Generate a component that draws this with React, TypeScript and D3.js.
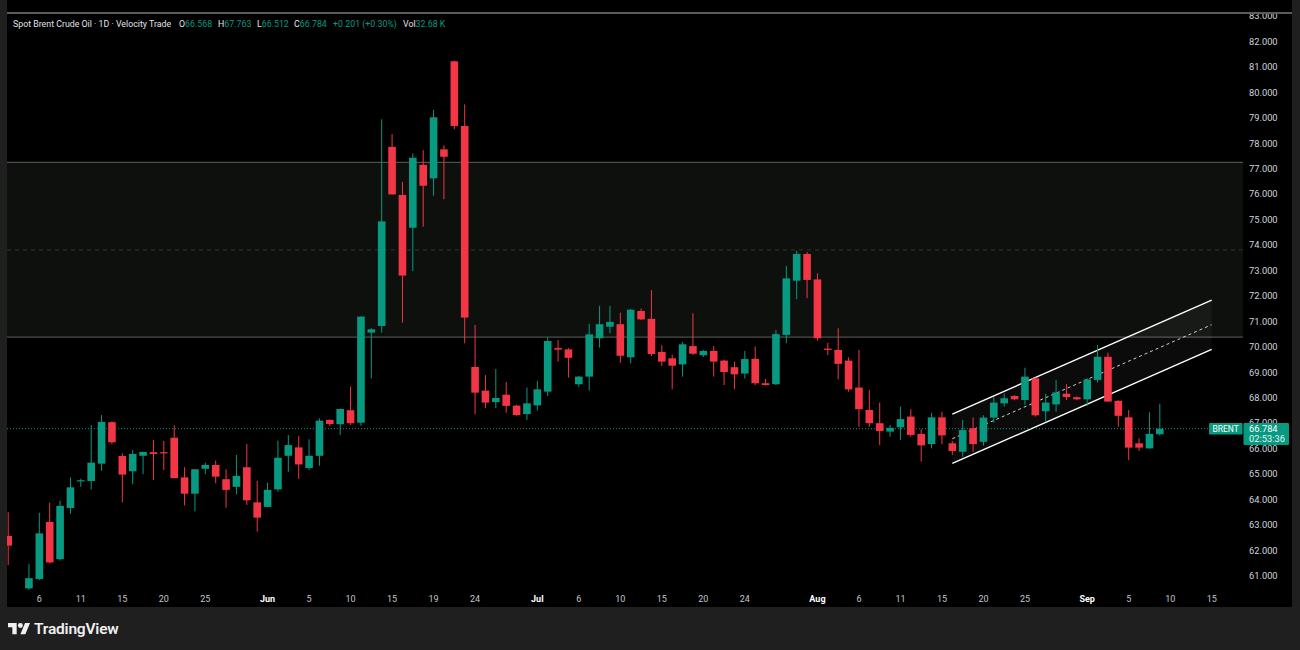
import React from "react";
import * as d3 from "d3";

// Bar slots (daily bars incl. Sunday sessions), May 2 – Sep 15
const dates = [
  "May 2","May 4","May 5","May 6","May 7","May 8","May 9","May 11","May 12","May 13","May 14","May 15","May 16",
  "May 18","May 19","May 20","May 21","May 22","May 23","May 25","May 26","May 27","May 28","May 29","May 30",
  "Jun 1","Jun 2","Jun 3","Jun 4","Jun 5","Jun 6","Jun 8","Jun 9","Jun 10","Jun 11","Jun 12","Jun 13",
  "Jun 15","Jun 16","Jun 17","Jun 18","Jun 19","Jun 20","Jun 22","Jun 23","Jun 24","Jun 25","Jun 26","Jun 27",
  "Jun 29","Jun 30","Jul 1","Jul 2","Jul 3","Jul 4","Jul 6","Jul 7","Jul 8","Jul 9","Jul 10","Jul 11",
  "Jul 13","Jul 14","Jul 15","Jul 16","Jul 17","Jul 18","Jul 20","Jul 21","Jul 22","Jul 23","Jul 24","Jul 25",
  "Jul 27","Jul 28","Jul 29","Jul 30","Jul 31","Aug 1","Aug 3","Aug 4","Aug 5","Aug 6","Aug 7","Aug 8",
  "Aug 10","Aug 11","Aug 12","Aug 13","Aug 14","Aug 15","Aug 17","Aug 18","Aug 19","Aug 20","Aug 21","Aug 22",
  "Aug 24","Aug 25","Aug 26","Aug 27","Aug 28","Aug 29","Aug 31","Sep 1","Sep 2","Sep 3","Sep 4","Sep 5",
  "Sep 7","Sep 8","Sep 9","Sep 10","Sep 11","Sep 12","Sep 14","Sep 15",
];

const open = [
  62.57,null,60.51,60.88,63.12,61.66,63.67,64.72,64.73,65.41,67.04,65.71,65.11,
  65.72,65.86,65.86,66.43,64.87,64.23,65.21,65.36,64.8,64.5,65.27,63.89,
  63.71,64.4,65.72,66.05,65.24,65.72,67.13,66.96,67.51,67.02,70.56,70.82,
  77.86,75.97,74.68,77.15,76.62,77.76,81.22,78.68,69.21,68.28,67.83,68.12,
  67.69,67.36,67.7,68.24,69.95,69.9,68.53,68.83,70.34,70.79,70.89,69.59,
  71.41,71.1,69.8,69.55,69.31,70.03,69.67,69.84,69.46,69.2,68.95,69.53,
  68.57,68.53,70.47,72.6,73.65,72.65,69.93,69.88,69.46,68.4,67.52,67.0,
  66.67,66.84,67.26,66.58,66.18,67.23,66.21,65.88,66.8,66.27,67.22,67.78,
  68.07,67.91,68.76,67.47,67.74,68.16,68.02,67.94,68.7,69.61,67.88,67.23,
  66.21,66.01,66.568,
];
const high = [
  63.5,null,61.46,63.48,63.88,63.96,64.87,64.82,66.93,67.32,67.08,65.82,65.95,
  65.88,66.34,66.3,66.92,65.27,65.19,65.45,65.53,65.19,65.75,66.18,64.73,
  64.66,66.31,66.54,66.5,66.37,67.19,67.15,67.58,68.44,71.19,70.73,78.94,
  78.36,76.48,77.6,77.73,79.31,77.92,81.25,79.53,70.86,68.89,69.13,68.62,
  67.72,68.4,68.66,70.38,70.27,69.95,68.86,70.9,71.61,71.61,71.34,71.49,
  71.51,72.23,70.06,69.69,70.19,71.32,69.88,70.03,69.5,69.42,69.84,70.01,
  68.74,70.66,73.18,73.78,73.73,72.89,70.16,70.73,69.59,69.88,68.3,67.81,
  66.93,67.65,67.55,66.76,67.41,67.45,66.3,67.13,67.23,67.31,68.02,68.17,
  68.1,69.18,68.8,68.15,68.7,68.53,68.05,68.76,70.07,69.77,67.9,67.52,
  66.41,67.43,67.763,
];
const low = [
  61.43,null,60.45,60.83,61.49,61.61,63.44,64.5,64.4,65.13,66.17,63.89,64.6,
  65.0,64.77,65.16,64.84,63.77,63.54,65.0,64.64,63.68,64.21,63.79,62.74,
  63.71,64.31,65.09,64.81,65.16,65.33,66.89,66.54,66.93,66.9,68.76,70.56,
  75.99,70.95,72.98,74.72,75.94,75.8,78.55,70.14,67.35,67.59,67.59,67.41,
  67.3,67.13,67.49,68.07,69.42,68.79,68.43,68.28,69.97,70.53,69.38,69.35,
  71.05,69.64,69.25,68.33,68.83,69.68,69.6,68.83,68.5,68.34,68.76,68.5,
  68.48,68.5,70.14,71.87,71.91,70.24,69.68,68.72,68.24,66.86,66.86,66.14,
  66.47,66.34,66.47,65.49,66.01,66.17,65.75,65.68,65.88,66.12,67.02,67.65,
  67.9,67.72,67.26,67.06,67.45,67.91,67.9,67.68,68.6,67.85,66.86,65.55,
  65.91,66.0,66.512,
];
const close = [
  62.19,null,60.91,62.67,61.53,63.75,64.48,64.76,65.45,67.05,66.25,64.98,65.79,
  65.87,65.79,65.83,64.84,64.23,65.19,65.36,64.9,64.38,64.93,63.97,63.29,
  64.38,65.64,66.14,65.38,65.72,67.1,66.97,67.56,67.0,71.19,70.69,74.93,
  75.99,72.8,77.43,76.33,79.02,77.47,78.68,71.15,68.2,67.81,67.99,67.68,
  67.32,67.78,68.33,70.23,69.89,69.57,68.83,70.49,70.89,70.98,69.65,71.46,
  71.08,69.72,69.42,69.26,70.1,69.73,69.84,69.42,69.01,68.92,69.52,68.57,
  68.5,70.5,72.69,73.65,72.63,70.34,69.88,69.33,68.33,67.55,67.0,66.69,
  66.82,67.16,66.54,66.13,67.23,66.52,65.91,66.73,66.18,67.22,67.81,67.98,
  67.94,68.83,67.31,67.81,68.21,68.03,67.94,68.72,69.61,67.85,67.29,66.04,
  66.04,66.58,66.784,
];

const priceTicks = [61,62,63,64,65,66,67,68,69,70,71,72,73,74,75,76,77,78,79,80,81,82,83];
const tickDates = ["May 6","May 11","May 15","May 20","May 25","Jun 1","Jun 5","Jun 10","Jun 15","Jun 19","Jun 24",
  "Jul 1","Jul 6","Jul 10","Jul 15","Jul 20","Jul 24","Aug 1","Aug 6","Aug 11","Aug 15","Aug 20","Aug 25",
  "Sep 1","Sep 5","Sep 10","Sep 15"];
const tickLabels = ["6","11","15","20","25","Jun","5","10","15","19","24","Jul","6","10","15","20","24",
  "Aug","6","11","15","20","25","Sep","5","10","15"];
const monthLabels = ["Jun","Jul","Aug","Sep"];

const zoneLevels = [70.38, 73.81, 77.25]; // bottom, middle, top
const channelDates = ["Aug 17", "Sep 15"];
const channelUpper = [67.36, 71.84];
const channelMid = [66.39, 70.87];
const channelLower = [65.42, 69.9];

const lastPrice = 66.784;
const lastTimer = "02:53:36";
const headerTitle = "Spot Brent Crude Oil · 1D · Velocity Trade";
const headerFields = [
  { k: "O", v: "66.568" },
  { k: "H", v: "67.763" },
  { k: "L", v: "66.512" },
  { k: "C", v: "66.784" },
  { k: "", v: "+0.201 (+0.30%)" },
  { k: "Vol", v: "32.68 K" },
];

const UP = "#089981";
const DOWN = "#F23645";
const FONT = "Roboto, 'Noto Sans', sans-serif";

export default function App() {
  const W = 1300, H = 650;
  const plotL = 7, plotR = 1243, plotT = 14, xAxisY = 607;
  const x = d3.scaleLinear().domain([0, 116]).range([8.2, 8.2 + 116 * 10.375]);
  const y = d3.scaleLinear().domain([61, 83]).range([575.9, 16]);
  const idx = (d: string) => dates.indexOf(d);
  const bw = 7.6;

  const candles = close
    .map((c, i) => ({ i, o: open[i], h: high[i], l: low[i], c }))
    .filter((d) => d.c != null);

  const cx0 = x(idx(channelDates[0]));
  const cx1 = x(idx(channelDates[1]));
  const chanPoly = [
    [cx0, y(channelUpper[0])],
    [cx1, y(channelUpper[1])],
    [cx1, y(channelLower[1])],
    [cx0, y(channelLower[0])],
  ];
  const line = d3.line();

  const yLast = y(lastPrice);

  // header x positions
  const fieldX = [179, 218, 257, 294, 333, 403];

  return (
    <svg width={W} height={H} style={{ position: "absolute", left: 0, top: 0, display: "block" }}
      fontFamily={FONT}>
      <defs>
        <clipPath id="plotClip">
          <rect x={plotL} y={plotT} width={plotR - plotL} height={xAxisY - 17 - plotT} />
        </clipPath>
        <clipPath id="axisClip">
          <rect x={plotR} y={plotT} width={1292 - plotR} height={xAxisY - plotT} />
        </clipPath>
      </defs>
      {/* frame */}
      <rect x={0} y={0} width={W} height={H} fill="#1f1f1f" />
      <rect x={plotL} y={0} width={1292 - plotL} height={xAxisY} fill="#000" />
      <line x1={plotL} x2={1292} y1={13} y2={13} stroke="#7a7a7a" strokeWidth={1.5} />

      <g clipPath="url(#plotClip)">
        {/* zone */}
        <rect x={plotL} y={y(zoneLevels[2])} width={plotR - plotL}
          height={y(zoneLevels[0]) - y(zoneLevels[2])} fill="#0d100d" />
        <line x1={plotL} x2={plotR} y1={y(zoneLevels[2])} y2={y(zoneLevels[2])} stroke="#4e4e4e" strokeWidth={1.2} />
        <line x1={plotL} x2={plotR} y1={y(zoneLevels[0])} y2={y(zoneLevels[0])} stroke="#4e4e4e" strokeWidth={1.2} />
        <line x1={plotL} x2={plotR} y1={y(zoneLevels[1])} y2={y(zoneLevels[1])} stroke="#333" strokeWidth={1}
          strokeDasharray="4 4" />

        {/* channel */}
        <path d={line(chanPoly as any) + "Z"} fill="rgba(255,255,255,0.045)" />
        <line x1={cx0} x2={cx1} y1={y(channelUpper[0])} y2={y(channelUpper[1])} stroke="#fff" strokeWidth={1.4} />
        <line x1={cx0} x2={cx1} y1={y(channelLower[0])} y2={y(channelLower[1])} stroke="#fff" strokeWidth={1.4} />
        <line x1={cx0} x2={cx1} y1={y(channelMid[0])} y2={y(channelMid[1])} stroke="#cfcfcf" strokeWidth={1}
          strokeDasharray="3 3" />

        {/* last price line */}
        <line x1={plotL} x2={1209} y1={yLast} y2={yLast} stroke={UP} strokeWidth={1} strokeDasharray="1 2" />

        {/* candles */}
        {candles.map((d) => {
          const col = (d.c as number) >= (d.o as number) ? UP : DOWN;
          const cx = x(d.i);
          const yt = y(Math.max(d.o as number, d.c as number));
          const yb = y(Math.min(d.o as number, d.c as number));
          return (
            <g key={d.i}>
              <line x1={cx} x2={cx} y1={y(d.h as number)} y2={y(d.l as number)} stroke={col} strokeWidth={1} />
              <rect x={cx - bw / 2} y={yt} width={bw} height={Math.max(1.2, yb - yt)} fill={col} />
            </g>
          );
        })}
      </g>

      {/* header */}
      <text x={13} y={27} fontSize={8.8} fill="#e0e3eb">{headerTitle}</text>
      {headerFields.map((f, i) => (
        <text key={i} x={fieldX[i]} y={27} fontSize={8.8}>
          {f.k && <tspan fill="#e0e3eb">{f.k}</tspan>}
          <tspan fill={UP}>{f.v}</tspan>
        </text>
      ))}

      {/* price axis (67.000 sits partly behind the last-price tag, as in the original) */}
      <g clipPath="url(#axisClip)">
        {priceTicks.map((v) => (
          <text key={v} x={1249} y={y(v)} dy="0.35em" fontSize={9.3} fill="#d1d4dc">{v.toFixed(3)}</text>
        ))}
      </g>

      {/* time axis */}
      {tickDates.map((d, i) => {
        const isMonth = monthLabels.includes(tickLabels[i]);
        return (
          <text key={d} x={x(idx(d))} y={599} dy="0.35em" textAnchor="middle" fontSize={9}
            fontWeight={isMonth ? 700 : 400} fill={isMonth ? "#ffffff" : "#c3c6ce"}>{tickLabels[i]}</text>
        );
      })}

      {/* BRENT + last price labels */}
      <rect x={1209} y={yLast - 5.7} width={33.5} height={11.5} rx={1} fill={UP} />
      <text x={1225.7} y={yLast} dy="0.35em" textAnchor="middle" fontSize={8.5} fill="#fff">BRENT</text>
      <rect x={1243.5} y={yLast - 5.7} width={45.5} height={22} rx={1} fill={UP} />
      <text x={1249} y={yLast} dy="0.35em" fontSize={9.3} fill="#fff">{lastPrice.toFixed(3)}</text>
      <text x={1249} y={yLast + 10.5} dy="0.35em" fontSize={9.3} fill="#e6f4f1">{lastTimer}</text>

      {/* TradingView logo */}
      <g transform="translate(8,620.5) scale(0.62)" fill="#f0f0f0">
        <path d="M14 22H7V11H0V4h14v18zM28 22h-8l7.5-18h8L28 22z" />
        <circle cx={20} cy={8} r={4} />
      </g>
      <text x={34} y={634} fontSize={15.5} fontWeight={600} fill="#f0f0f0" letterSpacing={-0.2}>TradingView</text>
    </svg>
  );
}
